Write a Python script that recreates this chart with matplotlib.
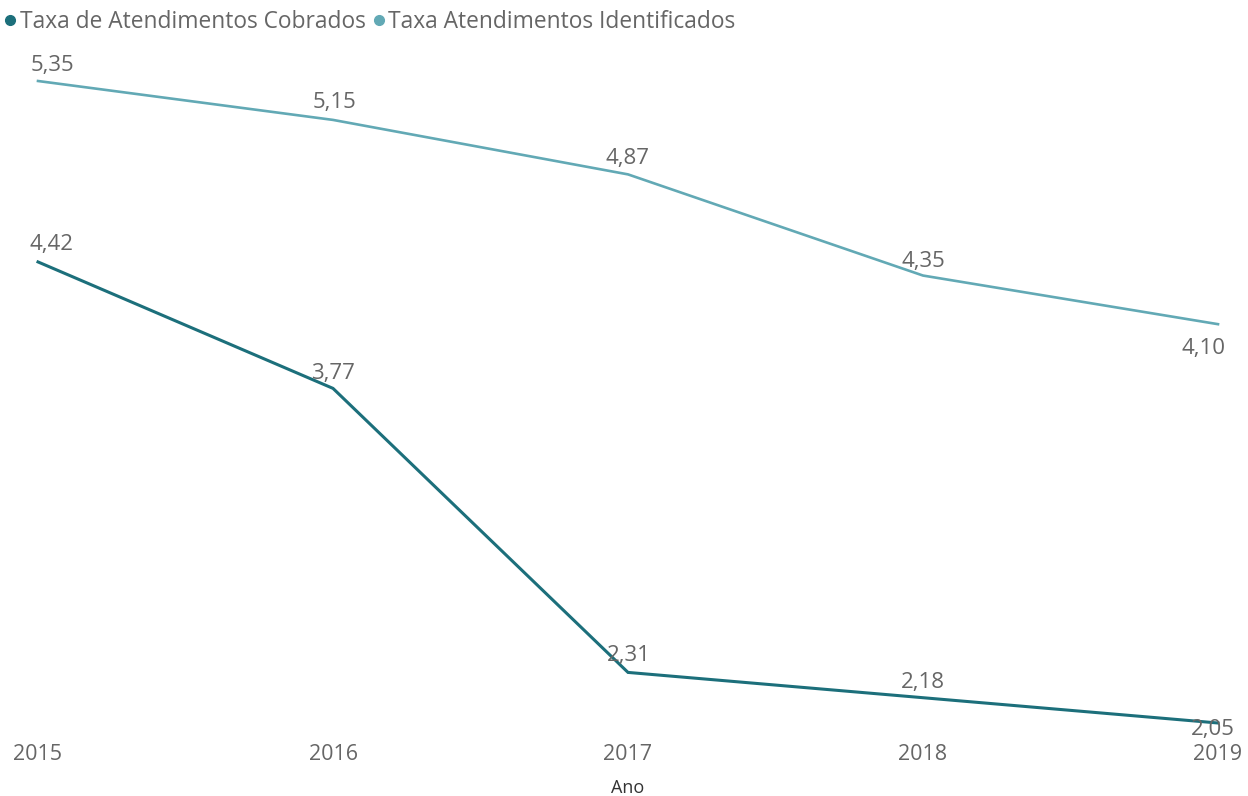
import matplotlib.pyplot as plt
from matplotlib.lines import Line2D

# Dados
anos = [2015, 2016, 2017, 2018, 2019]
taxa_cobrados = [4.42, 3.77, 2.31, 2.18, 2.05]
taxa_identificados = [5.35, 5.15, 4.87, 4.35, 4.10]

nome_cobrados = "Taxa de Atendimentos Cobrados"
nome_identificados = "Taxa Atendimentos Identificados"

cor_cobrados = "#1c6f7b"
cor_identificados = "#62a9b5"
cor_texto = "#666666"

# deslocamento dos rótulos em pixels (dx, dy)
offs_cobrados = [(13, 17), (0, 15), (1, 17), (0, 15), (-5, -7)]
offs_identificados = [(14, 15), (1, 17), (0, 16), (0, 14), (-14, -24)]

plt.rcParams['font.family'] = ['Open Sans', 'DejaVu Sans']

fig = plt.figure(figsize=(12.48, 7.96), dpi=100)
ax = fig.add_axes([38 / 1248, 1 - 723 / 796, (1218 - 38) / 1248, (723 - 81) / 796])

ax.plot(anos, taxa_identificados, color=cor_identificados, lw=1.9, clip_on=False,
        solid_joinstyle='miter')
ax.plot(anos, taxa_cobrados, color=cor_cobrados, lw=2.2, clip_on=False,
        solid_joinstyle='miter')

for serie, offs in [(taxa_cobrados, offs_cobrados), (taxa_identificados, offs_identificados)]:
    for x, y, (dx, dy) in zip(anos, serie, offs):
        ax.annotate(f"{y:.2f}".replace(".", ","), (x, y), xytext=(dx, dy),
                    textcoords='offset pixels', ha='center', va='center',
                    fontsize=16, color=cor_texto)

ax.set_xlim(2015, 2019)
ax.set_ylim(2.05, 5.35)
ax.set_xticks(anos)
ax.set_xticklabels([str(a) for a in anos])
ax.tick_params(axis='x', length=0, pad=15, labelsize=15.5, labelcolor=cor_texto)
ax.set_yticks([])
for s in ax.spines.values():
    s.set_visible(False)

fig.text(628 / 1248, 1 - 788 / 796, "Ano", ha='center', va='center',
         fontsize=13, color="#333333")

handles = [
    Line2D([], [], ls='none', marker='o', ms=7, color=cor_cobrados, label=nome_cobrados),
    Line2D([], [], ls='none', marker='o', ms=7, color=cor_identificados, label=nome_identificados),
]
fig.legend(handles=handles, loc='center left', bbox_to_anchor=(5 / 1248, 1 - 22 / 796), ncol=2,
           frameon=False, handlelength=0.45, handletextpad=0.2, columnspacing=0.35,
           fontsize=16.4, labelcolor=cor_texto, borderaxespad=0, borderpad=0)

fig.savefig("out.png", dpi=100)
